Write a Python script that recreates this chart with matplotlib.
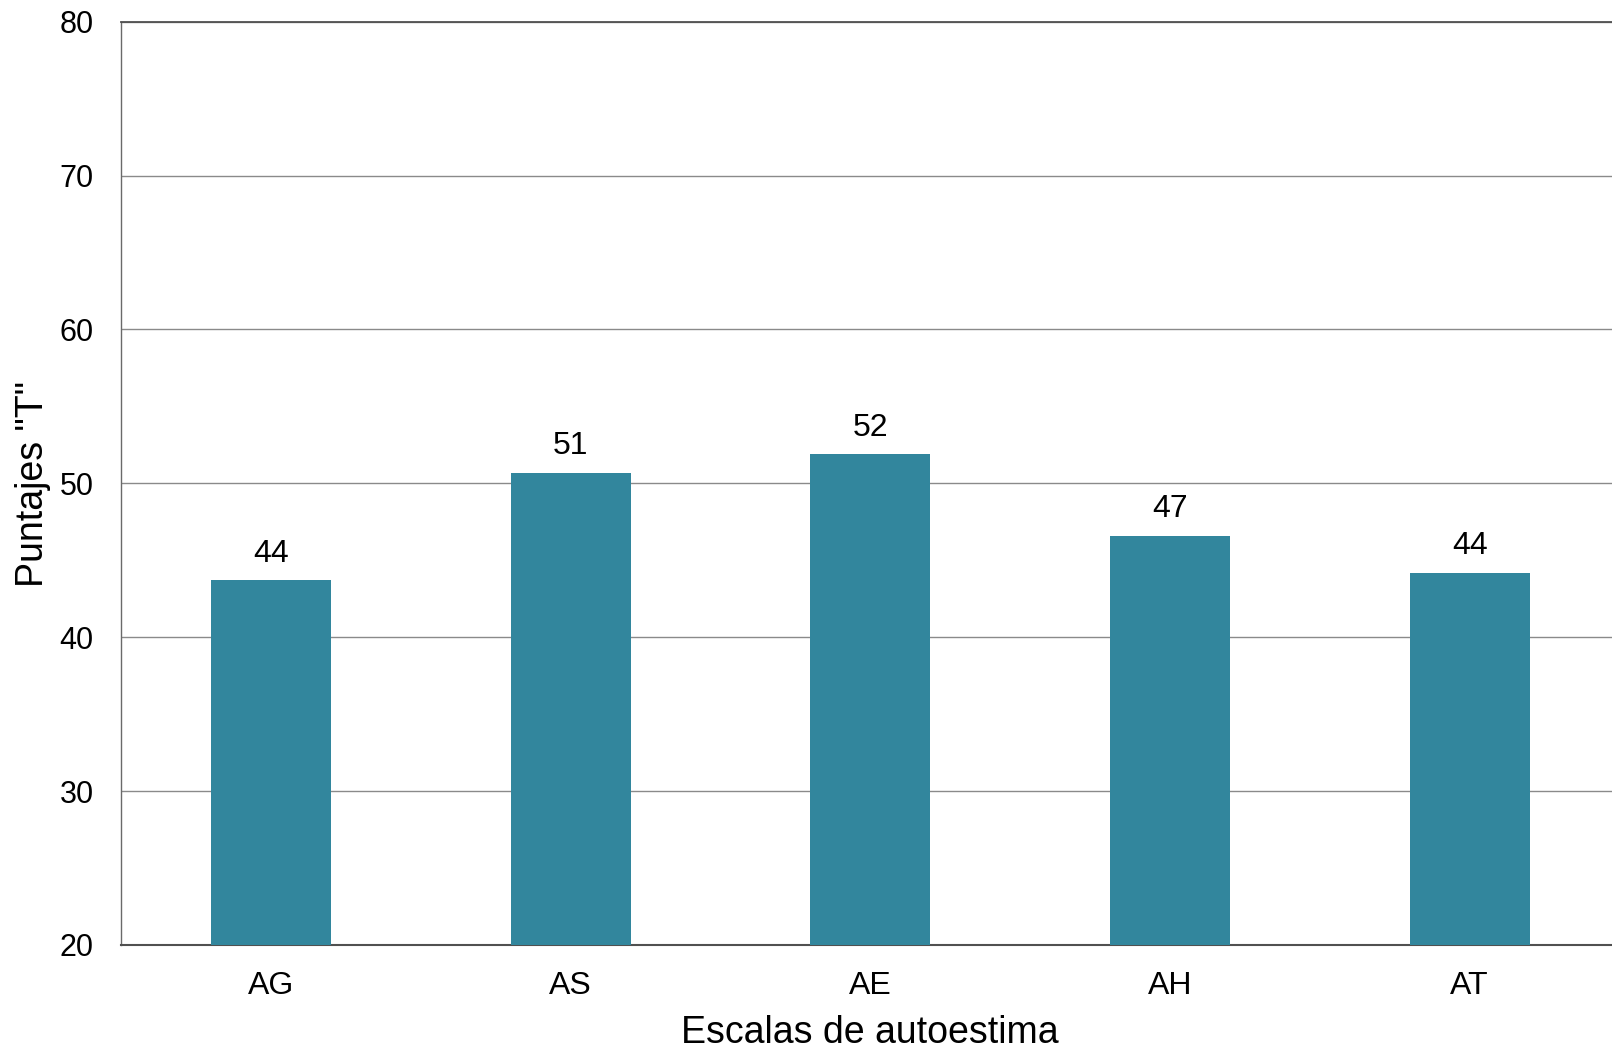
import matplotlib
matplotlib.use("Agg")
import matplotlib.pyplot as plt

categories = ["AG", "AS", "AE", "AH", "AT"]
values = [43.7, 50.7, 51.9, 46.6, 44.2]
yticks = [20, 30, 40, 50, 60, 70, 80]

plt.rcParams['font.family'] = ['Liberation Sans', 'DejaVu Sans']

fig = plt.figure(figsize=(16.12, 10.5), dpi=100)
ax = fig.add_axes([121.3 / 1612, 0.1, (1619.5 - 121.3) / 1612, 0.9794 - 0.1])

x = list(range(len(categories)))
bars = ax.bar(x, values, width=0.4, color="#32869d", zorder=3)

ax.set_xlim(-0.5, 4.5)
ax.set_ylim(20, 80)
ax.set_yticks(yticks)
ax.set_xticks(x)
ax.set_xticklabels(categories)

ax.grid(axis="y", color="#8a8a8a", linewidth=1.0, zorder=0)
ax.set_axisbelow(True)

ax.tick_params(axis="both", length=0)
ax.tick_params(axis="x", pad=18.5, labelsize=23)
ax.tick_params(axis="y", pad=20, labelsize=22)

ax.spines["right"].set_visible(False)
ax.spines["left"].set_color("#6a6a6a")
ax.spines["left"].set_linewidth(1.0)
ax.spines["top"].set_color("#505050")
ax.spines["top"].set_linewidth(1.3)
ax.spines["bottom"].set_color("#505050")
ax.spines["bottom"].set_linewidth(1.5)

for xi, v in zip(x, values):
    ax.annotate(f"{v:.0f}", xy=(xi, v), xytext=(0, 13.2), textcoords="offset points",
                ha="center", va="baseline", fontsize=23, color="black")

fig.text(870 / 1612, 7 / 1050, "Escalas de autoestima", ha="center", va="baseline", fontsize=27)
fig.text(33 / 1612, 1 - 484 / 1050, 'Puntajes "T"', ha="center", va="center", rotation=90, fontsize=27)

fig.savefig("out.png", dpi=100)
